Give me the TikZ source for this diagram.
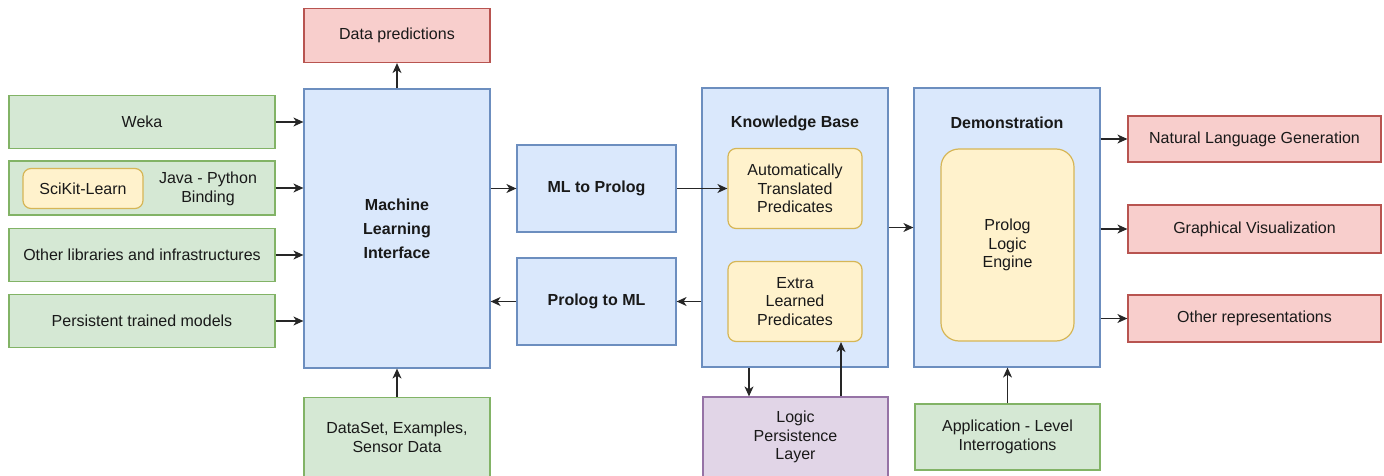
\documentclass[tikz,border=0pt]{standalone}
\usepackage{fontspec}
\setmainfont{Liberation Sans}
\usetikzlibrary{arrows.meta,calc}
\definecolor{gfill}{HTML}{D5E8D4}\definecolor{gline}{HTML}{82B366}
\definecolor{bfill}{HTML}{DAE8FC}\definecolor{bline}{HTML}{6C8EBF}
\definecolor{rfill}{HTML}{F8CECC}\definecolor{rline}{HTML}{B85450}
\definecolor{yfill}{HTML}{FFF2CC}\definecolor{yline}{HTML}{D6B656}
\definecolor{pfill}{HTML}{E1D5E7}\definecolor{pline}{HTML}{9673A6}
\begin{document}
\begin{tikzpicture}[x=1pt,y=-1pt,
  base/.style={draw, line width=1.2pt, inner sep=2pt, align=center,
    font=\fontsize{16}{18.7}\selectfont, text=black!90},
  gbox/.style={base, fill=gfill, draw=gline},
  bbox/.style={base, fill=bfill, draw=bline},
  rbox/.style={base, fill=rfill, draw=rline},
  ybox/.style={base, fill=yfill, draw=yline, rounded corners=8pt},
  pbox/.style={base, fill=pfill, draw=pline},
  bold/.style={font=\fontsize{16}{18.7}\selectfont\bfseries},
  lbl/.style={align=center, font=\fontsize{16}{18.7}\selectfont, text=black!90},
  arr/.style={-{Stealth[length=10pt,width=9pt,inset=3pt]}, line width=1.2pt, black!85}]
\useasboundingbox (0,0) rectangle (1384,476);

% input sources
\node[gbox, minimum width=266pt, minimum height=53pt] (weka) at (142,122) {Weka};
\node[gbox, minimum width=266pt, minimum height=54pt] (sci) at (142,188) {};
\node[ybox, minimum width=120pt, minimum height=40pt] (scikit) at (83,188.5) {SciKit-Learn};
\node[lbl] (java) at (208,189) {Java - Python\\Binding};
\node[gbox, minimum width=266pt, minimum height=53pt] (other) at (142,255) {Other libraries and infrastructures};
\node[gbox, minimum width=266pt, minimum height=53pt] (persist) at (142,321) {Persistent trained models};

% machine learning side
\node[bbox, minimum width=186pt, minimum height=279pt, font=\fontsize{16}{24}\selectfont\bfseries] (ml) at (397,228.5) {Machine\\Learning\\Interface};
\node[rbox, minimum width=186pt, minimum height=54pt] (dpred) at (397,35.5) {Data predictions};
\node[gbox, minimum width=186pt, minimum height=79pt] (data) at (397,437) {DataSet, Examples,\\Sensor Data};

% translators
\node[bbox, bold, minimum width=159pt, minimum height=87pt] (mlp) at (596.5,188.5) {ML to Prolog};
\node[bbox, bold, minimum width=159pt, minimum height=87pt] (pml) at (596.5,301.5) {Prolog to ML};

% knowledge base
\node[bbox, minimum width=186pt, minimum height=279pt] (kb) at (795,227.5) {};
\node[lbl, font=\fontsize{16}{18.7}\selectfont\bfseries] (kbt) at (795,123) {Knowledge Base};
\node[ybox, minimum width=134pt, minimum height=80pt] (auto) at (795,188.5) {Automatically\\Translated\\Predicates};
\node[ybox, minimum width=134pt, minimum height=80pt] (extra) at (795,301.5) {Extra\\Learned\\Predicates};
\node[pbox, minimum width=185pt, minimum height=80pt] (lpl) at (795.5,437) {Logic\\Persistence\\Layer};

% demonstration
\node[bbox, minimum width=186pt, minimum height=279pt] (demo) at (1007,227.5) {};
\node[lbl, font=\fontsize{16}{18.7}\selectfont\bfseries] (demot) at (1007,123) {Demonstration};
\node[ybox, rounded corners=18pt, minimum width=133pt, minimum height=192pt] (engine) at (1007.5,245) {Prolog\\Logic\\Engine};
\node[gbox, minimum width=185pt, minimum height=66pt] (app) at (1007.5,437) {Application - Level\\Interrogations};

% outputs
\node[rbox, minimum width=253pt, minimum height=46pt] (nlg) at (1254.5,139) {Natural Language Generation};
\node[rbox, minimum width=253pt, minimum height=48pt] (gv) at (1254.5,229) {Graphical Visualization};
\node[rbox, minimum width=253pt, minimum height=47pt] (orep) at (1254.5,318.5) {Other representations};

% connectors
\draw[arr] (weka.east) -- (weka.east -| ml.west);
\draw[arr] (sci.east) -- (sci.east -| ml.west);
\draw[arr] (other.east) -- (other.east -| ml.west);
\draw[arr] (persist.east) -- (persist.east -| ml.west);
\draw[arr] (ml.north) -- (dpred.south);
\draw[arr] (data.north) -- (ml.south);
\draw[arr] (ml.east |- mlp.west) -- (mlp.west);
\draw[arr] (mlp.east) -- (mlp.east -| auto.west);
\draw[arr] (kb.west |- pml.east) -- (pml.east);
\draw[arr] (pml.west) -- (pml.west -| ml.east);
\draw[arr] (kb.east) -- (demo.west);
\draw[arr] ([xshift=-46pt]kb.south) -- ([xshift=-46.5pt]lpl.north);
\draw[arr] ([xshift=45.5pt]lpl.north) -- ([xshift=46pt]extra.south);
\draw[arr] (app.north) -- (app.north |- demo.south);
\draw[arr] (demo.east |- nlg.west) -- (nlg.west);
\draw[arr] (demo.east |- gv.west) -- (gv.west);
\draw[arr] (demo.east |- orep.west) -- (orep.west);
\end{tikzpicture}
\end{document}
